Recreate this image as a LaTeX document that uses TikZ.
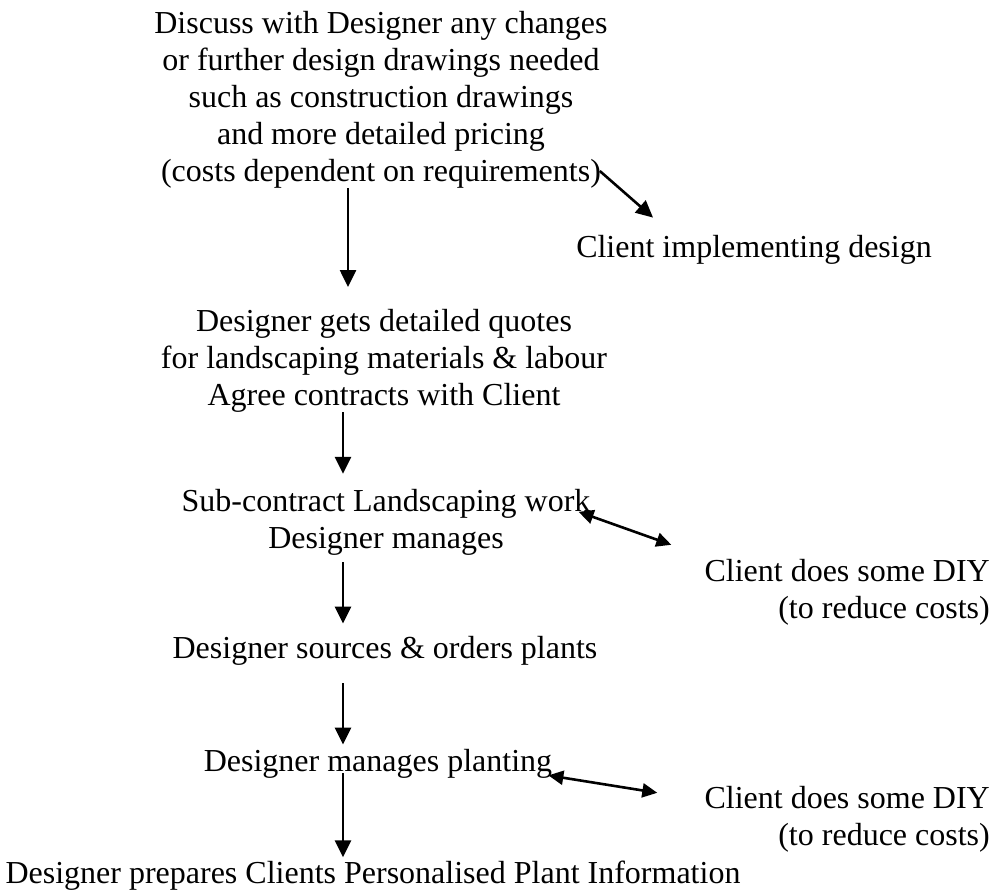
\documentclass[tikz,border=0pt]{standalone}
\usepackage{fontspec}
\setmainfont{Liberation Serif}
\usetikzlibrary{arrows.meta}

\begin{document}
\begin{tikzpicture}[x=1pt,y=1pt,
txt/.style={inner sep=0pt,align=center,anchor=base,font=\fontsize{32}{36.8}\selectfont},
side/.style={txt,align=right,anchor=base east},
flow/.style={line width=2.6pt,-{Triangle[length=17pt,width=16pt]}},
both/.style={line width=2.6pt,{Triangle[length=15pt,width=14pt]}-{Triangle[length=15pt,width=14pt]}}]

\useasboundingbox (0,0) rectangle (1006,-889);

% base anchor sits on the last line
\node[txt](discuss) at (381,-181){Discuss with Designer any changes\\or further design drawings needed\\such as construction drawings\\and more detailed pricing\\(costs dependent on requirements)};
\node[txt](implement) at (754,-257){Client implementing design};
\node[txt](quotes) at (384,-405){Designer gets detailed quotes\\for landscaping materials \& labour\\Agree contracts with Client};
\node[txt](subcon) at (386,-548){Sub-contract Landscaping work\\Designer manages};
\node[side](diyone) at (990,-618){Client does some DIY\\(to reduce costs)};
\node[txt](sources) at (385,-658){Designer sources \& orders plants};
\node[txt](planting) at (378,-771){Designer manages planting};
\node[side](diytwo) at (990,-845){Client does some DIY\\(to reduce costs)};
\node[txt](prepares) at (373,-883){Designer prepares Clients Personalised Plant Information};

\path[flow]([xshift=-33pt]discuss.south)edge([xshift=-36pt,yshift=22pt]quotes.north)
([xshift=-8pt,yshift=17pt]discuss.south east)edge([xshift=77pt,yshift=17pt]implement.north west)
([xshift=-41pt]quotes.south)edge([xshift=-43pt,yshift=15pt]subcon.north)
([xshift=-43pt,yshift=-7pt]subcon.south)edge([xshift=-42pt,yshift=12pt]sources.north)
([xshift=-42pt,yshift=-18pt]sources.south)edge([xshift=-35pt,yshift=4pt]planting.north)
([xshift=-35pt,yshift=5pt]planting.south)edge([xshift=-30pt,yshift=3pt]prepares.north);
\path[both]([xshift=-12pt,yshift=-23pt]subcon.north east)edge([xshift=-33pt,yshift=14pt]diyone.north west)
([xshift=-4pt,yshift=-12pt]planting.east)edge([xshift=-47pt,yshift=-7pt]diytwo.north west);

\end{tikzpicture}
\end{document}
